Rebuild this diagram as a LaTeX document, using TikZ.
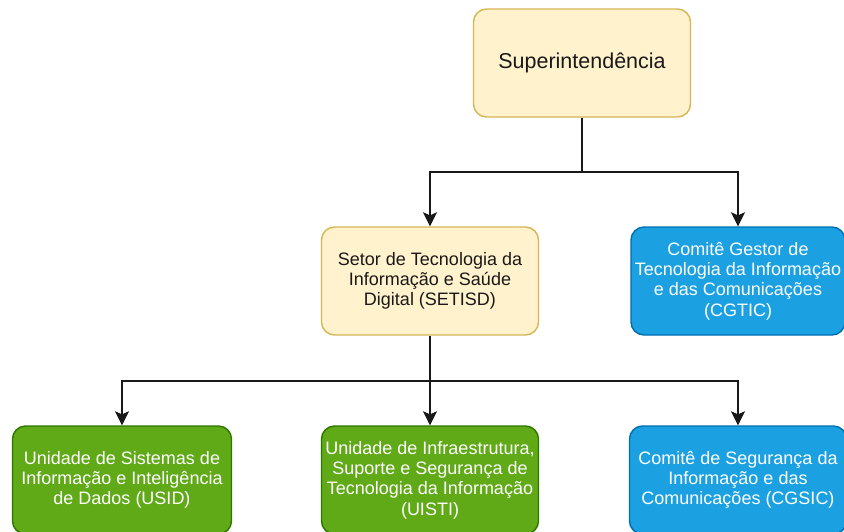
\documentclass[tikz,border=0pt]{standalone}
\usepackage{fontspec}
\setmainfont{Liberation Sans}
\usetikzlibrary{arrows.meta}
\definecolor{yellowfill}{HTML}{FFF2CC}
\definecolor{yellowline}{HTML}{D6B656}
\definecolor{bluefill}{HTML}{1BA1E2}
\definecolor{blueline}{HTML}{006EAF}
\definecolor{greenfill}{HTML}{60A917}
\definecolor{greenline}{HTML}{2D7600}
\tikzstyle{orgbox} = [
    rectangle,
    rounded corners=13pt,
    line width=1.4pt,
    minimum width=217pt,
    minimum height=108pt,
    align=center,
    inner sep=2pt,
    font=\fontsize{18}{20.3}\selectfont
    ]
\tikzstyle{yellowbox} = [orgbox, draw=yellowline, fill=yellowfill, text=black!90]
\tikzstyle{bluebox} = [orgbox, draw=blueline, fill=bluefill, text=white]
\tikzstyle{greenbox} = [orgbox, draw=greenline, fill=greenfill, text=white]
\tikzstyle{link} = [
    line width=1.5pt,
    black!90,
    -{Stealth[length=14pt,width=14pt,inset=3pt]}
    ]

\begin{document}
\begin{tikzpicture}[x=1pt,y=-1pt]
\useasboundingbox (0,0) rectangle (844,531);
\fill[white] (0,0) rectangle (844,531);

% top
\node[yellowbox, font=\fontsize{21.5}{24}\selectfont] (sup) at (582,63) {Superintendência};

% middle row
\node[yellowbox] (setisd) at (430,281) {Setor de Tecnologia da\\Informação e Saúde\\Digital (SETISD)};
\node[bluebox, minimum width=214pt] (cgtic) at (738,281) {Comitê Gestor de\\Tecnologia da Informação\\e das Comunicações\\(CGTIC)};

% bottom row
\node[greenbox, minimum width=219pt] (usid) at (122,480) {Unidade de Sistemas de\\Informação e Inteligência\\de Dados (USID)};
\node[greenbox] (uisti) at (430,480) {Unidade de Infraestrutura,\\Suporte e Segurança de\\Tecnologia da Informação\\(UISTI)};
\node[bluebox] (cgsic) at (738,480) {Comitê de Segurança da\\Informação e das\\Comunicações (CGSIC)};

% connectors
\coordinate (fork1) at (582,172);
\coordinate (fork2) at (430,381);
\draw[link] (sup.south) -- (fork1) -| (setisd.north);
\draw[link] (fork1) -| (cgtic.north);
\draw[link] (setisd.south) -- (fork2) -| (usid.north);
\draw[link] (fork2) -- (uisti.north);
\draw[link] (fork2) -| (cgsic.north);
\end{tikzpicture}
\end{document}
